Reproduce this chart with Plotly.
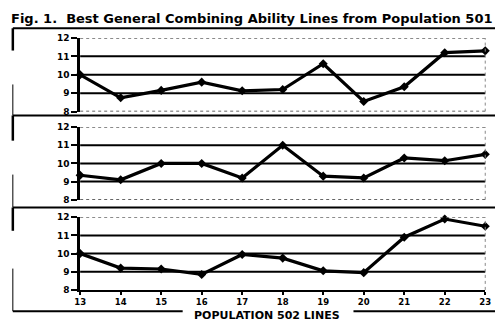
import plotly.graph_objects as go

# Population 502 line numbers (x axis)
lines = [13, 14, 15, 16, 17, 18, 19, 20, 21, 22, 23]

# Combining ability values for the three panels (top to bottom)
panel_top = [10.0, 8.75, 9.15, 9.6, 9.13, 9.2, 10.6, 8.55, 9.35, 11.2, 11.3]
panel_mid = [9.35, 9.1, 10.0, 10.0, 9.2, 11.0, 9.3, 9.2, 10.3, 10.15, 10.5]
panel_bot = [10.0, 9.2, 9.15, 8.85, 9.95, 9.75, 9.05, 8.95, 10.9, 11.9, 11.5]

y_ticks = [8, 9, 10, 11, 12]
grid_levels = [9, 10, 11]
title_text = "Fig. 1.&nbsp; Best General Combining Ability Lines from Population 501"
x_title = "POPULATION 502 LINES"

W, H = 501, 323
FONT = "DejaVu Sans, Verdana, sans-serif"


def px_x(p):
    return p / W


def px_y(p):
    return 1 - p / H


x_dom = [px_x(76), px_x(491)]
# plot-area pixel bounds (top, bottom) of each panel
panel_px = [(34, 110), (126, 201), (219, 294)]
series = [panel_top, panel_mid, panel_bot]

fig = go.Figure()
shapes = []

for i, ((top, bot), vals) in enumerate(zip(panel_px, series)):
    n = "" if i == 0 else str(i + 1)
    xa, ya = "x" + n, "y" + n
    fig.add_trace(go.Scatter(
        x=lines, y=vals, xaxis=xa, yaxis=ya, mode="lines+markers",
        line=dict(color="black", width=3.2),
        marker=dict(symbol="diamond", size=7, color="black"),
        cliponaxis=False, showlegend=False, hoverinfo="skip",
    ))
    last = i == 2
    fig.update_layout({
        "xaxis" + n: dict(
            domain=x_dom, range=[13, 23], anchor=ya,
            showgrid=False, zeroline=False,
            showline=last, linecolor="black", linewidth=2,
            ticks="outside" if last else "", ticklen=3, tickwidth=2, tickcolor="black",
            tickvals=lines, ticktext=[f"<b>{v}</b>" for v in lines],
            showticklabels=last,
            tickfont=dict(family=FONT, size=8.5, color="black"),
        ),
        "yaxis" + n: dict(
            domain=[px_y(bot), px_y(top)], range=[8, 12], anchor=xa,
            showgrid=False, zeroline=False,
            showline=True, linecolor="black", linewidth=2.5,
            ticks="outside", ticklen=6, tickwidth=2, tickcolor="black",
            tickvals=y_ticks, ticktext=[f"<b>{v}</b>" for v in y_ticks],
            tickfont=dict(family=FONT, size=9, color="black"),
        ),
    })
    # solid horizontal rules
    for g in grid_levels:
        shapes.append(dict(type="line", xref=xa + " domain", yref=ya,
                           x0=0, x1=1, y0=g, y1=g,
                           line=dict(color="black", width=2)))
    # dotted top rule
    shapes.append(dict(type="line", xref=xa + " domain", yref=ya,
                       x0=0, x1=1, y0=12, y1=12,
                       line=dict(color="#666", width=1.5, dash="dot")))
    # dotted baseline on upper panels
    if not last:
        shapes.append(dict(type="line", xref=xa + " domain", yref=ya,
                           x0=0, x1=1, y0=8, y1=8,
                           line=dict(color="#333", width=1.5, dash="dot")))
    # faint right edge
    shapes.append(dict(type="line", xref=xa + " domain", yref=ya,
                       x0=1, x1=1, y0=8, y1=12,
                       line=dict(color="#888", width=1, dash="dot")))

# panel frames
frame = dict(color="black", width=2)
for yy in (24, 114, 209):
    shapes.append(dict(type="line", xref="paper", yref="paper",
                       x0=px_x(7), x1=1, y0=px_y(yy), y1=px_y(yy), line=frame))
shapes.append(dict(type="line", xref="paper", yref="paper",
                   x0=px_x(7), x1=px_x(181), y0=px_y(316), y1=px_y(316), line=frame))
shapes.append(dict(type="line", xref="paper", yref="paper",
                   x0=px_x(356), x1=1, y0=px_y(316), y1=px_y(316), line=frame))
for a, b, w in [(24, 47, 2.5), (82, 114, 1), (114, 140, 2.5), (175, 209, 1),
                (209, 233, 2.5), (272, 316, 1)]:
    shapes.append(dict(type="line", xref="paper", yref="paper",
                       x0=px_x(7), x1=px_x(7), y0=px_y(a), y1=px_y(b),
                       line=dict(color="black", width=w)))

fig.update_layout(
    width=W, height=H, margin=dict(l=0, r=0, t=0, b=0),
    paper_bgcolor="white", plot_bgcolor="white",
    shapes=shapes,
    annotations=[
        dict(text=f"<b>{title_text}</b>", xref="paper", yref="paper",
             x=px_x(3), y=px_y(13.5), xanchor="left", yanchor="middle",
             showarrow=False, font=dict(family=FONT, size=13, color="black")),
        dict(text=f"<b>{x_title}</b>", xref="paper", yref="paper",
             x=px_x(267), y=px_y(320.5), xanchor="center", yanchor="middle",
             showarrow=False, font=dict(family=FONT, size=11, color="black")),
    ],
)

fig.write_html("out.html")
